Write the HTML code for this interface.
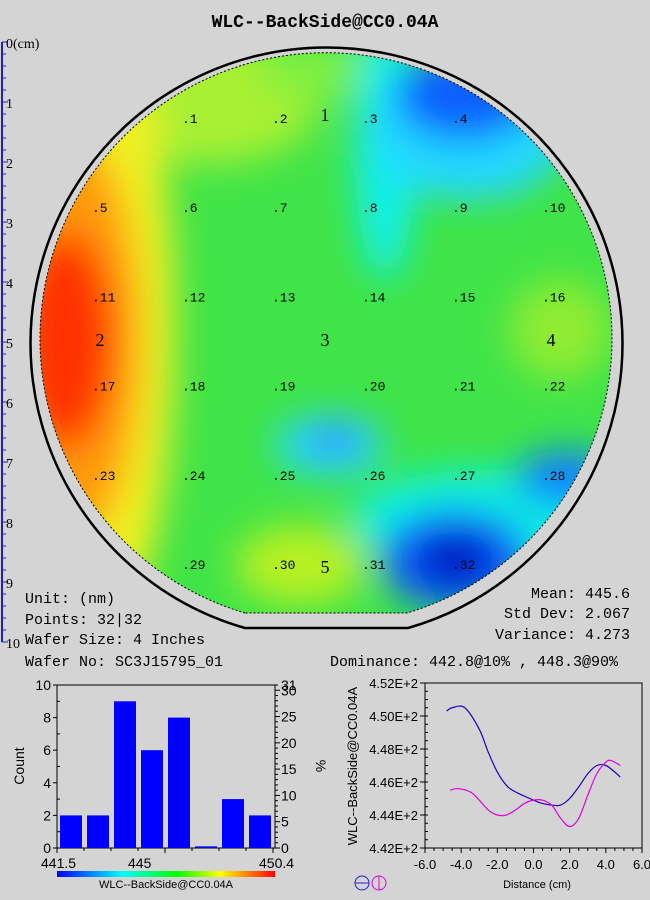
<!DOCTYPE html>
<html><head><meta charset="utf-8"><style>
body{margin:0;background:#d4d4d4;}
svg{display:block;font-family:"Liberation Mono",monospace;}
.s{font-family:"Liberation Sans",sans-serif;}
</style></head><body>
<svg width="650" height="900" viewBox="0 0 650 900">
<rect width="650" height="900" fill="#d4d4d4"/>
<text x="325" y="27" text-anchor="middle" font-size="18" font-weight="bold">WLC--BackSide@CC0.04A</text>
<g id="ruler"></g>
<defs>
<clipPath id="wc"><path d="M245,613 A286,286 0 1 1 407,613 Z"/></clipPath>
<filter id="bl" x="-50%" y="-50%" width="200%" height="200%"><feGaussianBlur stdDeviation="18"/></filter>
</defs>
<path d="M245,628 A296,296 0 1 1 408,628 Z" fill="none" stroke="#000" stroke-width="2.5"/>
<g clip-path="url(#wc)">
<rect x="30" y="40" width="600" height="600" fill="#40e448"/>
<g filter="url(#bl)">
<ellipse cx="210" cy="100" rx="110" ry="65" fill="#a8f030"/>
<ellipse cx="310" cy="70" rx="50" ry="30" fill="#80f040"/>
<ellipse cx="110" cy="330" rx="65" ry="290" fill="#f0f020"/>
<ellipse cx="75" cy="340" rx="65" ry="200" fill="#ff9a10"/>
<ellipse cx="65" cy="340" rx="50" ry="110" fill="#ff3000"/>
<ellipse cx="385" cy="150" rx="30" ry="130" fill="#10f0f0"/>
<ellipse cx="470" cy="130" rx="100" ry="70" fill="#20d8ff"/>
<ellipse cx="465" cy="95" rx="70" ry="45" fill="#1060ff"/>
<ellipse cx="560" cy="330" rx="50" ry="50" fill="#90ec30"/>
<ellipse cx="330" cy="445" rx="55" ry="30" fill="#20d8ff"/>
<ellipse cx="335" cy="440" rx="28" ry="15" fill="#3090ff"/>
<ellipse cx="480" cy="520" rx="130" ry="50" fill="#10f0e0"/>
<ellipse cx="565" cy="478" rx="50" ry="28" fill="#1080ff"/>
<ellipse cx="455" cy="560" rx="75" ry="50" fill="#1060ff"/>
<ellipse cx="455" cy="560" rx="40" ry="28" fill="#0018c0"/>
<ellipse cx="300" cy="565" rx="65" ry="40" fill="#b8f020"/>
</g>
</g>
<path d="M245,613 A286,286 0 1 1 407,613 Z" fill="none" stroke="#000" stroke-width="1" stroke-dasharray="2,2"/>
<g id="pts" font-size="13"></g>
<g font-family="Liberation Serif,serif" font-size="18">
<text x="325" y="121" text-anchor="middle">1</text><text x="100" y="346" text-anchor="middle">2</text>
<text x="325" y="346" text-anchor="middle">3</text><text x="551" y="346" text-anchor="middle">4</text>
<text x="325" y="573" text-anchor="middle">5</text></g>
<g font-size="15">
<text x="25" y="603">Unit: (nm)</text><text x="25" y="624">Points: 32|32</text>
<text x="25" y="644">Wafer Size: 4 Inches</text><text x="25" y="666">Wafer No: SC3J15795_01</text>
<text x="630" y="598" text-anchor="end">Mean: 445.6</text><text x="630" y="618" text-anchor="end">Std Dev: 2.067</text>
<text x="630" y="639" text-anchor="end">Variance: 4.273</text>
<text x="330" y="666">Dominance: 442.8@10% , 448.3@90%</text></g>
<g id="hist" class="s"></g>
<g id="line" class="s"></g>
</svg>
<script>
const NS="http://www.w3.org/2000/svg";
function mk(p,t,a,txt){const e=document.createElementNS(NS,t);for(const k in a)e.setAttribute(k,a[k]);if(txt!=null)e.textContent=txt;p.appendChild(e);return e;}
const R=document.getElementById('ruler');
mk(R,'line',{x1:2,y1:42,x2:2,y2:642,stroke:'#2020c0','stroke-width':2});
for(let i=0;i<=50;i++){const y=42+i*12;mk(R,'line',{x1:2,y1:y,x2:i%5?6:8,y2:y,stroke:'#2020c0'});}
for(let k=0;k<=10;k++){mk(R,'text',{x:6,y:42+k*60+6,'font-size':14,'font-family':'Liberation Serif,serif'},k===0?'0(cm)':String(k));}
const rows=[[1,4],[0,5],[0,5],[0,5],[0,5],[1,4]];const P=document.getElementById('pts');let n=1;
rows.forEach((r,ri)=>{for(let c=r[0];c<=r[1];c++){const t=mk(P,'text',{x:100+c*90-8,y:118+ri*89.2+5},'.'+n);n++;}});
const counts=[2,2,9,6,8,0,3,2];
const countTicks=[0,2,4,6,8,10];const pctTicks=[0,5,10,15,20,25,30];
const xLabels=['441.5','445','450.4'];
const H=document.getElementById('hist');
const hx0=57,hx1=275,hy0=848,hy1=685;const hy=v=>hy0-(v/10)*(hy0-hy1);
mk(H,'rect',{x:hx0,y:hy1,width:hx1-hx0,height:hy0-hy1,fill:'none',stroke:'#000'});
const bw=(hx1-hx0-2)/counts.length;
counts.forEach((c,i)=>{const b=mk(H,'rect',{x:hx0+3+i*bw,y:hy(Math.max(c,0.1)),width:bw-5,height:hy0-hy(Math.max(c,0.1)),fill:'#0000ff'});});
countTicks.forEach(v=>{mk(H,'line',{x1:hx0-4,y1:hy(v),x2:hx0,y2:hy(v),stroke:'#000'});mk(H,'text',{x:hx0-6,y:hy(v)+5,'font-size':14,'text-anchor':'end'},v);});
for(let v=1;v<10;v+=2)mk(H,'line',{x1:hx0,y1:hy(v),x2:hx0+3,y2:hy(v),stroke:'#000'});
const py=p=>hy0-(p/31)*(hy0-hy1);
for(let p=0;p<=31;p++)mk(H,'line',{x1:hx1,y1:py(p),x2:hx1+(p%5?3:5),y2:py(p),stroke:'#000'});
pctTicks.concat([31]).forEach(p=>mk(H,'text',{x:hx1+6,y:py(p)+5,'font-size':14},p));
for(let i=0;i<=counts.length;i++)mk(H,'line',{x1:hx0+i*bw,y1:hy0,x2:hx0+i*bw,y2:hy0+(i%4?3:5),stroke:'#000'});
mk(H,'text',{x:hx0-16,y:868,'font-size':14},xLabels[0]);mk(H,'text',{x:128,y:868,'font-size':14},xLabels[1]);mk(H,'text',{x:hx1-16,y:868,'font-size':14},xLabels[2]);
mk(H,'text',{x:24,y:766,'font-size':14,transform:'rotate(-90 24 766)','text-anchor':'middle'},'Count');
mk(H,'text',{x:316,y:766,'font-size':14,transform:'rotate(90 316 766)','text-anchor':'middle'},'%');
const d=mk(H,'defs',{});const g=mk(d,'linearGradient',{id:'cb'});
[['0','#0000ff'],['0.3','#00ffff'],['0.55','#00ff00'],['0.75','#ffff00'],['1','#ff0000']].forEach(s=>mk(g,'stop',{offset:s[0],'stop-color':s[1]}));
mk(H,'rect',{x:hx0,y:871,width:hx1-hx0,height:6,fill:'url(#cb)'});
mk(H,'text',{x:(hx0+hx1)/2,y:888,'font-size':11,'text-anchor':'middle'},'WLC--BackSide@CC0.04A');
const blueX=[-4.8,-4.5,-3.8,-3.0,-2.5,-2.0,-1.5,-1.0,0,0.5,1.0,1.5,2.0,2.5,3.0,3.5,4.0,4.5,4.8];
const blueY=[450.3,450.5,450.5,449.2,447.8,446.6,445.8,445.4,444.9,444.7,444.6,444.6,445.0,445.7,446.5,447.0,447.0,446.6,446.3];
const magX=[-4.6,-4.2,-3.5,-3.0,-2.5,-2.0,-1.5,-1.0,-0.5,0,0.5,1.0,1.5,2.0,2.5,3.0,3.5,4.0,4.3,4.8];
const magY=[445.5,445.6,445.4,444.9,444.3,444.0,444.0,444.3,444.7,444.9,444.9,444.6,443.8,443.3,443.8,445.2,446.5,447.2,447.3,447.0];
const yTicks=['4.42E+2','4.44E+2','4.46E+2','4.48E+2','4.50E+2','4.52E+2'];const xTicks=['-6.0','-4.0','-2.0','0.0','2.0','4.0','6.0'];
const L=document.getElementById('line');const lx0=425,lx1=642,ly0=848,ly1=683;
const sx=v=>lx0+(v+6)/12*(lx1-lx0),sy=v=>ly0-(v-442)/10*(ly0-ly1);
mk(L,'rect',{x:lx0,y:ly1,width:lx1-lx0,height:ly0-ly1,fill:'none',stroke:'#000'});
yTicks.forEach((t,i)=>{const y=sy(442+2*i);mk(L,'line',{x1:lx0-5,y1:y,x2:lx0,y2:y,stroke:'#000'});mk(L,'text',{x:lx0-7,y:y+5,'font-size':13,'text-anchor':'end'},t);});
for(let v=442;v<=452;v+=0.5)mk(L,'line',{x1:lx0,y1:sy(v),x2:lx0+3,y2:sy(v),stroke:'#000'});
xTicks.forEach((t,i)=>{const x=sx(-6+2*i);mk(L,'text',{x:x,y:869,'font-size':13,'text-anchor':'middle'},t);});
for(let v=-6;v<=6;v+=0.5)mk(L,'line',{x1:sx(v),y1:ly0,x2:sx(v),y2:ly0+(v%2?3:5),stroke:'#000'});
mk(L,'text',{x:357,y:766,'font-size':13,transform:'rotate(-90 357 766)','text-anchor':'middle'},'WLC--BackSide@CC0.04A');
mk(L,'text',{x:537,y:888,'font-size':11,'text-anchor':'middle'},'Distance (cm)');
function path(X,Y){const p=X.map((x,i)=>[sx(x),sy(Y[i])]);let s='M'+p[0][0]+','+p[0][1];
for(let i=0;i<p.length-1;i++){const a=p[i-1]||p[i],b=p[i],c=p[i+1],e=p[i+2]||c;
s+=` C${b[0]+(c[0]-a[0])/6},${b[1]+(c[1]-a[1])/6} ${c[0]-(e[0]-b[0])/6},${c[1]-(e[1]-b[1])/6} ${c[0]},${c[1]}`;}return s;}
const pb=mk(L,'path',{d:path(blueX,blueY),fill:'none',stroke:'#2000c0','stroke-width':1.2});

const pm=mk(L,'path',{d:path(magX,magY),fill:'none',stroke:'#e000e0','stroke-width':1.2});

const ib=mk(L,'g',{});
mk(ib,'circle',{cx:362,cy:883,r:7,fill:'none',stroke:'#2020d0'});mk(ib,'line',{x1:355,y1:883,x2:369,y2:883,stroke:'#2020d0'});
const im=mk(L,'g',{});
mk(im,'circle',{cx:379,cy:883,r:7,fill:'none',stroke:'#e000e0'});mk(im,'line',{x1:379,y1:876,x2:379,y2:890,stroke:'#e000e0'});
</script>
</body></html>
